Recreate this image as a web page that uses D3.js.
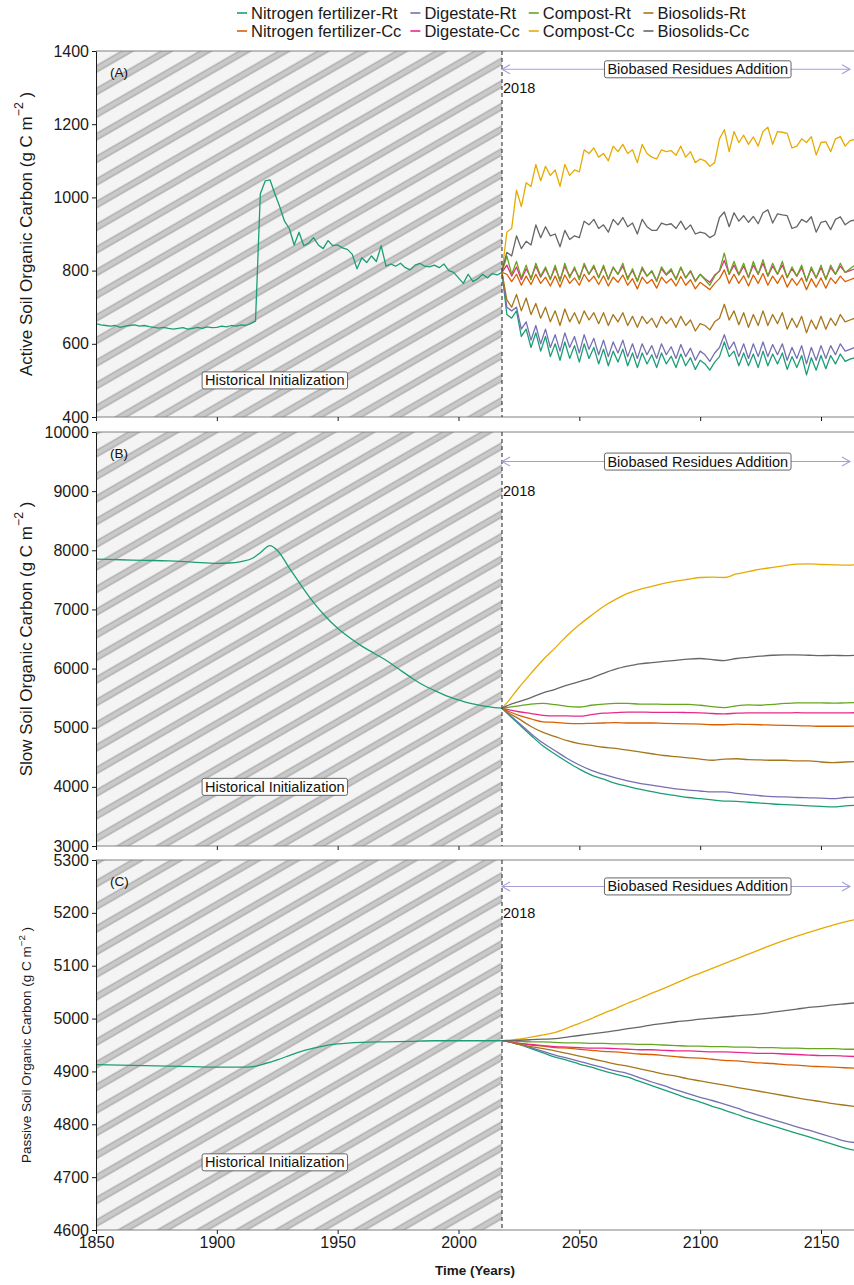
<!DOCTYPE html>
<html>
<head>
<meta charset="utf-8">
<script src="https://cdn.jsdelivr.net/npm/d3@7"></script>
<style>
  body { margin: 0; background: #fff; }
  svg { display: block; font-family: "Liberation Sans", Arial, sans-serif; }
</style>
</head>
<body>
<svg id="chart" width="854" height="1285"></svg>
<script>
// ---- series ----
const seriesNames = ["Nitrogen fertilizer-Rt", "Nitrogen fertilizer-Cc", "Digestate-Rt", "Digestate-Cc",
                     "Compost-Rt", "Compost-Cc", "Biosolids-Rt", "Biosolids-Cc"];
const seriesColors = ["#1B9E77", "#D95F02", "#7570B3", "#E7298A", "#66A61E", "#E6AB02", "#A6761D", "#666666"];
const xTicks = [1850, 1900, 1950, 2000, 2050, 2100, 2150];

// ---- panel A: active SOC (2-year steps) ----
const histYearsA = d3.range(1850, 2019, 2);
const histA = [655, 652, 650, 648, 650, 645, 648, 650, 652, 648,
  650, 647, 645, 643, 645, 642, 640, 642, 644, 640,
  642, 645, 642, 646, 644, 645, 648, 646, 650, 648,
  652, 650, 655, 662, 1010, 1045, 1048, 1010, 975, 935,
  915, 870, 905, 868, 875, 890, 870, 860, 882, 868,
  870, 862, 858, 845, 805, 835, 822, 840, 825, 868,
  812, 818, 812, 820, 808, 802, 815, 820, 812, 810,
  815, 808, 818, 800, 795, 780, 765, 790, 770, 778,
  790, 780, 792, 788, 795];
const futYearsA = d3.range(2018, 2165, 2);
const nitroRtA = [795, 680, 670, 690, 620, 640, 590, 630, 580, 620,
  565, 600, 555, 605, 560, 595, 550, 600, 560, 590,
  545, 585, 540, 580, 550, 585, 540, 575, 535, 575,
  545, 570, 535, 575, 545, 566, 535, 572, 540, 562,
  530, 555, 545, 528, 550, 565, 605, 565, 580, 540,
  575, 540, 572, 535, 580, 540, 572, 545, 575, 530,
  565, 535, 568, 515, 562, 528, 568, 532, 568, 545,
  572, 552, 558, 562];
const nitroCcA = [795, 790, 770, 790, 760, 785, 762, 790, 765, 782,
  758, 785, 755, 788, 765, 780, 760, 790, 770, 785,
  762, 786, 758, 782, 768, 788, 760, 778, 750, 782,
  765, 776, 752, 782, 766, 778, 758, 784, 760, 775,
  750, 768, 758, 748, 765, 778, 802, 765, 790, 765,
  786, 758, 788, 765, 792, 760, 785, 765, 788, 755,
  778, 760, 780, 748, 778, 755, 780, 752, 780, 765,
  785, 770, 775, 780];
const digestRtA = [795, 700, 690, 700, 640, 660, 610, 650, 600, 640,
  590, 625, 580, 630, 590, 620, 575, 625, 585, 615,
  570, 610, 565, 605, 575, 610, 565, 600, 560, 600,
  570, 595, 560, 600, 570, 592, 560, 598, 565, 588,
  555, 580, 570, 552, 575, 590, 625, 585, 605, 565,
  600, 560, 600, 565, 605, 565, 598, 570, 600, 555,
  590, 560, 595, 545, 590, 555, 595, 560, 595, 570,
  600, 580, 585, 590];
const digestCcA = [795, 815, 785, 810, 775, 805, 780, 812, 782, 805,
  778, 808, 775, 812, 785, 805, 780, 815, 790, 810,
  782, 810, 778, 808, 790, 812, 780, 800, 772, 805,
  785, 798, 772, 805, 788, 800, 778, 808, 780, 798,
  772, 790, 778, 768, 788, 798, 828, 790, 815, 788,
  812, 782, 815, 790, 820, 785, 812, 790, 815, 782,
  805, 785, 808, 772, 805, 780, 808, 778, 808, 790,
  812, 795, 800, 805];
const compostRtA = [795, 840, 790, 825, 780, 815, 775, 820, 785, 810,
  775, 815, 770, 820, 780, 810, 775, 820, 790, 815,
  780, 815, 775, 810, 790, 820, 775, 805, 770, 810,
  785, 800, 770, 810, 790, 805, 775, 810, 780, 800,
  770, 790, 775, 760, 785, 800, 848, 790, 825, 790,
  820, 780, 825, 790, 830, 785, 820, 790, 825, 780,
  810, 785, 815, 770, 810, 780, 815, 775, 815, 790,
  820, 795, 805, 815];
const compostCcA = [795, 905, 915, 1020, 975, 1040, 1030, 1090, 1045, 1085,
  1060, 1075, 1030, 1090, 1060, 1075, 1070, 1130, 1120, 1135,
  1110, 1120, 1100, 1140, 1125, 1145, 1120, 1130, 1095, 1145,
  1120, 1110, 1105, 1130, 1125, 1128, 1115, 1140, 1110, 1125,
  1095, 1105, 1100, 1085, 1095, 1160, 1185, 1125, 1180, 1150,
  1170, 1145, 1165, 1140, 1180, 1192, 1145, 1180, 1178, 1175,
  1135, 1140, 1160, 1150, 1166, 1116, 1150, 1152, 1125, 1160,
  1166, 1140, 1155, 1159];
const bioRtA = [795, 720, 700, 735, 690, 725, 680, 710, 670, 700,
  660, 690, 650, 695, 660, 685, 655, 690, 665, 685,
  655, 685, 650, 680, 660, 685, 650, 675, 645, 675,
  655, 670, 645, 675, 655, 670, 645, 675, 650, 665,
  635, 655, 650, 638, 660, 670, 708, 665, 690, 652,
  685, 645, 680, 650, 690, 650, 680, 655, 685, 640,
  670, 645, 675, 630, 665, 640, 675, 640, 670, 650,
  680, 660, 665, 670];
const bioCcA = [800, 850, 840, 895, 860, 880, 870, 925, 890, 920,
  895, 900, 865, 910, 885, 895, 890, 935, 925, 940,
  915, 925, 905, 940, 925, 945, 920, 930, 900, 940,
  920, 910, 910, 930, 925, 928, 915, 935, 912, 925,
  900, 905, 902, 890, 898, 945, 960, 920, 958, 935,
  950, 932, 948, 928, 958, 966, 930, 955, 952, 950,
  915, 920, 940, 932, 947, 905, 932, 935, 912, 940,
  947, 925, 935, 938];

// ---- panel B: slow SOC ----
const histYearsB = [1850, 1860, 1870, 1880, 1890, 1900, 1905, 1910, 1915, 1918, 1922, 1925, 1930, 1935, 1940,
  1945, 1950, 1955, 1960, 1965, 1970, 1975, 1980, 1985, 1990, 1995, 2000, 2005, 2010, 2015, 2018];
const histB = [7850, 7840, 7830, 7820, 7800, 7780, 7785, 7810, 7870, 7960, 8080, 8000, 7700, 7400, 7120,
  6880, 6680, 6520, 6380, 6260, 6140, 6000, 5860, 5730, 5630, 5540, 5470, 5410, 5370, 5340, 5330];
const futYearsBC = [2018, 2020, 2025, 2030, 2035, 2040, 2045, 2050, 2055, 2060, 2065, 2070, 2075, 2080, 2085,
  2090, 2095, 2100, 2105, 2110, 2115, 2120, 2125, 2130, 2135, 2140, 2145, 2150, 2155, 2160, 2165];
const nitroRtB = [5330, 5250, 5060, 4870, 4690, 4550, 4420, 4300, 4200, 4130, 4060, 4010, 3960, 3920, 3880,
  3850, 3820, 3800, 3780, 3760, 3755, 3740, 3725, 3710, 3700, 3690, 3680, 3670, 3660, 3680, 3690];
const nitroCcB = [5330, 5290, 5210, 5150, 5100, 5090, 5075, 5070, 5075, 5080, 5085, 5080, 5080, 5080, 5075,
  5070, 5065, 5060, 5050, 5050, 5060, 5055, 5050, 5045, 5040, 5035, 5030, 5025, 5025, 5025, 5030];
const digestRtB = [5330, 5260, 5080, 4900, 4740, 4610, 4480, 4370, 4280, 4210, 4150, 4100, 4060, 4030, 3995,
  3965, 3945, 3930, 3915, 3915, 3890, 3870, 3850, 3835, 3830, 3820, 3815, 3810, 3800, 3820, 3830];
const digestCcB = [5330, 5310, 5270, 5240, 5210, 5200, 5200, 5195, 5220, 5245, 5255, 5265, 5265, 5260, 5260,
  5260, 5255, 5250, 5240, 5235, 5245, 5250, 5250, 5250, 5250, 5255, 5250, 5250, 5250, 5250, 5255];
const compostRtB = [5330, 5340, 5370, 5400, 5410, 5390, 5360, 5350, 5380, 5400, 5410, 5410, 5400, 5400, 5395,
  5395, 5395, 5380, 5355, 5340, 5370, 5385, 5380, 5395, 5410, 5420, 5420, 5420, 5415, 5420, 5425];
const compostCcB = [5330, 5420, 5680, 5920, 6150, 6350, 6560, 6740, 6900, 7050, 7170, 7270, 7340, 7390, 7440,
  7480, 7510, 7540, 7545, 7540, 7600, 7640, 7680, 7710, 7740, 7765, 7770, 7760, 7755, 7750, 7755];
const bioRtB = [5330, 5270, 5150, 5020, 4920, 4850, 4780, 4730, 4700, 4670, 4650, 4620, 4590, 4560, 4530,
  4510, 4490, 4470, 4450, 4470, 4475, 4460, 4455, 4450, 4450, 4440, 4440, 4420, 4410, 4420, 4430];
const bioCcB = [5330, 5370, 5440, 5510, 5590, 5650, 5720, 5780, 5840, 5920, 5990, 6040, 6080, 6100, 6120,
  6140, 6160, 6170, 6150, 6135, 6170, 6190, 6210, 6225, 6230, 6230, 6225, 6220, 6222, 6220, 6225];

// ---- panel C: passive SOC ----
const histYearsC = [1850, 1860, 1870, 1880, 1890, 1900, 1910, 1915, 1920, 1925, 1930, 1935, 1940, 1945, 1950,
  1960, 1970, 1980, 1990, 2000, 2010, 2018];
const histC = [4913, 4912, 4911, 4910, 4909, 4908, 4908, 4909, 4915, 4922, 4930, 4938, 4944, 4949, 4952,
  4955, 4956, 4957, 4958, 4958, 4958, 4958];
const nitroRtC = [4958, 4957, 4951, 4943, 4935, 4927, 4921, 4914, 4908, 4901, 4895, 4889, 4881, 4873, 4865,
  4857, 4849, 4842, 4834, 4827, 4819, 4811, 4804, 4797, 4790, 4783, 4776, 4769, 4762, 4755, 4750];
const nitroCcC = [4958, 4957, 4953, 4950, 4948, 4945, 4944, 4942, 4940, 4938, 4937, 4935, 4933, 4932, 4930,
  4928, 4926, 4925, 4923, 4921, 4920, 4918, 4916, 4915, 4913, 4912, 4910, 4909, 4908, 4907, 4906];
const digestRtC = [4958, 4957, 4952, 4945, 4938, 4931, 4925, 4919, 4913, 4907, 4901, 4896, 4888, 4880, 4873,
  4865, 4858, 4851, 4845, 4838, 4831, 4823, 4816, 4809, 4802, 4795, 4789, 4782, 4775, 4768, 4765];
const digestCcC = [4958, 4957, 4953, 4951, 4949, 4947, 4946, 4945, 4944, 4944, 4943, 4942, 4941, 4941, 4940,
  4939, 4939, 4938, 4937, 4937, 4936, 4935, 4934, 4934, 4933, 4932, 4931, 4930, 4930, 4929, 4928];
const compostRtC = [4958, 4958, 4957, 4956, 4956, 4955, 4954, 4954, 4953, 4953, 4952, 4952, 4951, 4951, 4950,
  4949, 4948, 4948, 4947, 4947, 4946, 4946, 4945, 4945, 4944, 4944, 4943, 4943, 4943, 4942, 4942];
const compostCcC = [4958, 4959, 4961, 4965, 4969, 4974, 4982, 4991, 5000, 5010, 5019, 5029, 5038, 5048, 5057,
  5067, 5077, 5086, 5095, 5104, 5113, 5122, 5131, 5140, 5148, 5156, 5163, 5170, 5177, 5183, 5188];
const bioRtC = [4958, 4957, 4951, 4947, 4943, 4939, 4934, 4929, 4924, 4919, 4914, 4910, 4905, 4900, 4895,
  4891, 4886, 4882, 4878, 4874, 4870, 4866, 4862, 4858, 4854, 4850, 4846, 4843, 4839, 4836, 4833];
const bioCcC = [4958, 4958, 4959, 4960, 4961, 4962, 4965, 4968, 4971, 4974, 4977, 4981, 4984, 4988, 4991,
  4994, 4996, 4999, 5001, 5003, 5005, 5007, 5009, 5012, 5015, 5018, 5021, 5023, 5026, 5028, 5030];

// ---- layout ----
const W = 854;
const left = 96, right = 856;
const x = d3.scaleLinear().domain([1850, 2150]).range([96, 821]);
const x2018 = x(2018);
const FONT = '"Liberation Sans", Arial, sans-serif';

const panels = [
  { id: 'A', top: 51, bottom: 417, domain: [400, 1400], ticks: d3.range(400, 1401, 200),
    histYears: histYearsA, hist: histA, futYears: futYearsA,
    fut: [nitroRtA, nitroCcA, digestRtA, digestCcA, compostRtA, compostCcA, bioRtA, bioCcA],
    curve: d3.curveLinear, title: 'Active Soil Organic Carbon (g C  m', titleSize: 17,
    arrowY: 1350, yearY: 1300, histY: 500 },
  { id: 'B', top: 432, bottom: 846, domain: [3000, 10000], ticks: d3.range(3000, 10001, 1000),
    histYears: histYearsB, hist: histB, futYears: futYearsBC,
    fut: [nitroRtB, nitroCcB, digestRtB, digestCcB, compostRtB, compostCcB, bioRtB, bioCcB],
    curve: d3.curveMonotoneX, title: 'Slow Soil Organic Carbon (g C  m', titleSize: 17,
    arrowY: 9500, yearY: 9000, histY: 4000 },
  { id: 'C', top: 860, bottom: 1230, domain: [4600, 5300], ticks: d3.range(4600, 5301, 100),
    histYears: histYearsC, hist: histC, futYears: futYearsBC,
    fut: [nitroRtC, nitroCcC, digestRtC, digestCcC, compostRtC, compostCcC, bioRtC, bioCcC],
    curve: d3.curveMonotoneX, title: 'Passive Soil Organic Carbon (g C m', titleSize: 13.5,
    arrowY: 5250, yearY: 5200, histY: 4728 }
];

const svg = d3.select('#chart');
const defs = svg.append('defs');

// hatch pattern for the historical period
const pat = defs.append('pattern')
  .attr('id', 'hatch')
  .attr('patternUnits', 'userSpaceOnUse')
  .attr('width', 20).attr('height', 19.6)
  .attr('patternTransform', 'rotate(-30)');
pat.append('rect').attr('width', 20).attr('height', 19.6).attr('fill', '#f4f4f4');
pat.append('rect').attr('y', 7).attr('width', 20).attr('height', 5.8).attr('fill', '#c9c9c9');
[7, 12.8].forEach(yy => pat.append('line')
  .attr('x1', 0).attr('x2', 20).attr('y1', yy).attr('y2', yy)
  .attr('stroke', '#8a8a8a').attr('stroke-width', 0.8));

// label with a box round it
function boxLabel(g, cx, cy, text) {
  const lg = g.append('g');
  const t = lg.append('text')
    .attr('x', cx).attr('y', cy)
    .attr('text-anchor', 'middle').attr('dominant-baseline', 'central')
    .attr('font-size', 14.5).attr('font-family', FONT).attr('fill', '#111')
    .text(text);
  const bb = t.node().getBBox();
  lg.insert('rect', 'text')
    .attr('x', bb.x - 3).attr('y', cy - 8.5)
    .attr('width', bb.width + 6).attr('height', 17)
    .attr('rx', 2)
    .attr('fill', '#fff').attr('stroke', '#555').attr('stroke-width', 0.9);
}

panels.forEach((p, pi) => {
  const y = d3.scaleLinear().domain(p.domain).range([p.bottom, p.top]);
  const g = svg.append('g');
  const isLast = pi === panels.length - 1;

  // historical period shading
  g.append('rect')
    .attr('x', left).attr('y', p.top)
    .attr('width', x2018 - left).attr('height', p.bottom - p.top)
    .attr('fill', 'url(#hatch)');

  // panel border lines
  [p.top, p.bottom].forEach(yy => g.append('line')
    .attr('x1', left).attr('x2', right).attr('y1', yy).attr('y2', yy)
    .attr('stroke', '#808080').attr('stroke-width', 1));

  defs.append('clipPath').attr('id', 'clip' + p.id)
    .append('rect').attr('x', left).attr('y', p.top)
    .attr('width', W - left).attr('height', p.bottom - p.top);
  const lg = g.append('g').attr('clip-path', `url(#clip${p.id})`);

  const line = d3.line().x(d => x(d[0])).y(d => y(d[1])).curve(p.curve);

  p.fut.forEach((vals, i) => {
    lg.append('path')
      .datum(p.futYears.map((yr, j) => [yr, vals[j]]))
      .attr('d', line)
      .attr('fill', 'none')
      .attr('stroke', seriesColors[i])
      .attr('stroke-width', 1.3)
      .attr('stroke-linejoin', 'round');
  });
  lg.append('path')
    .datum(p.histYears.map((yr, j) => [yr, p.hist[j]]))
    .attr('d', line)
    .attr('fill', 'none')
    .attr('stroke', seriesColors[0])
    .attr('stroke-width', 1.3)
    .attr('stroke-linejoin', 'round');

  // 2018 dashed line
  g.append('line')
    .attr('x1', x2018).attr('x2', x2018).attr('y1', p.top).attr('y2', p.bottom)
    .attr('stroke', '#333').attr('stroke-width', 1.1).attr('stroke-dasharray', '4,3');

  // y axis
  const ya = g.append('g')
    .attr('transform', `translate(${left},0)`)
    .call(d3.axisLeft(y).tickValues(p.ticks).tickSize(4).tickSizeOuter(0).tickPadding(3).tickFormat(d3.format('d')));
  ya.attr('font-family', null).attr('font-size', null);
  ya.select('.domain').attr('stroke', '#1a1a1a');
  ya.selectAll('.tick line').attr('stroke', '#1a1a1a');
  ya.selectAll('.tick text').attr('font-size', 16).attr('font-family', FONT).attr('fill', '#1a1a1a');

  // x ticks at the bottom of each panel
  const xa = g.append('g')
    .attr('transform', `translate(0,${p.bottom})`)
    .call(d3.axisBottom(x).tickValues(xTicks).tickSize(4).tickSizeOuter(0).tickPadding(3)
      .tickFormat(isLast ? d3.format('d') : ''));
  xa.attr('font-family', null).attr('font-size', null);
  xa.select('.domain').remove();
  xa.selectAll('.tick line').attr('stroke', '#1a1a1a');
  xa.selectAll('.tick text').attr('font-size', 16).attr('font-family', FONT).attr('fill', '#1a1a1a');

  // panel tag
  g.append('text')
    .attr('x', 110).attr('y', p.top + 21)
    .attr('dominant-baseline', 'central')
    .attr('font-size', 13.5).attr('font-family', FONT).attr('fill', '#111')
    .text(`(${p.id})`);

  // y title
  const ty = (p.top + p.bottom) / 2;
  const tt = g.append('text')
    .attr('transform', `translate(26,${ty}) rotate(-90)`)
    .attr('text-anchor', 'middle').attr('dominant-baseline', 'central')
    .attr('font-size', p.titleSize).attr('font-family', FONT).attr('fill', '#1a1a1a');
  tt.append('tspan').text(p.title);
  tt.append('tspan').attr('dy', -p.titleSize * 0.4).attr('font-size', p.titleSize * 0.72).text('\u22122');
  tt.append('tspan').attr('dy', p.titleSize * 0.4).text(' )');

  // biobased residues arrow
  const ay = y(p.arrowY);
  const ax1 = x2018, ax2 = x(2162);
  const arrowCol = '#a39fd9';
  g.append('line').attr('x1', ax1).attr('x2', ax2).attr('y1', ay).attr('y2', ay)
    .attr('stroke', arrowCol).attr('stroke-width', 1.1);
  g.append('path').attr('d', `M${ax1 + 8},${ay - 4.5}L${ax1},${ay}L${ax1 + 8},${ay + 4.5}`)
    .attr('fill', 'none').attr('stroke', arrowCol).attr('stroke-width', 1.1);
  g.append('path').attr('d', `M${ax2 - 8},${ay - 4.5}L${ax2},${ay}L${ax2 - 8},${ay + 4.5}`)
    .attr('fill', 'none').attr('stroke', arrowCol).attr('stroke-width', 1.1);
  boxLabel(g, x(2099), ay, 'Biobased Residues Addition');

  g.append('text')
    .attr('x', x2018 + 1).attr('y', y(p.yearY))
    .attr('dominant-baseline', 'central')
    .attr('font-size', 14.5).attr('font-family', FONT).attr('fill', '#111')
    .text('2018');

  boxLabel(g, x(1924), y(p.histY), 'Historical Initialization');
});

// x title
svg.append('text')
  .attr('x', (left + W) / 2).attr('y', 1275)
  .attr('text-anchor', 'middle')
  .attr('font-size', 13.5).attr('font-weight', 'bold').attr('font-family', FONT).attr('fill', '#1a1a1a')
  .text('Time (Years)');

// legend: 4 columns, Rt on the first row, Cc on the second
const legend = svg.append('g');
const colWidths = [];
for (let c = 0; c < 4; c++) {
  let w = 0;
  for (let r = 0; r < 2; r++) {
    const idx = c * 2 + r;
    const t = legend.append('text')
      .attr('x', 0).attr('y', r === 0 ? 13 : 31)
      .attr('dominant-baseline', 'central')
      .attr('font-size', 16.5).attr('font-family', FONT).attr('fill', '#1a1a1a')
      .attr('class', 'lt c' + c)
      .text(seriesNames[idx]);
    w = Math.max(w, t.node().getComputedTextLength());
  }
  colWidths.push(w);
}
let lx = 236;
for (let c = 0; c < 4; c++) {
  legend.selectAll('.c' + c).attr('x', lx + 15);
  for (let r = 0; r < 2; r++) {
    const idx = c * 2 + r;
    const yy = r === 0 ? 13 : 31;
    legend.append('line')
      .attr('x1', lx + 1).attr('x2', lx + 11).attr('y1', yy).attr('y2', yy)
      .attr('stroke', seriesColors[idx]).attr('stroke-width', 1.6);
  }
  lx += 15 + colWidths[c] + 8;
}
</script>
</body>
</html>
